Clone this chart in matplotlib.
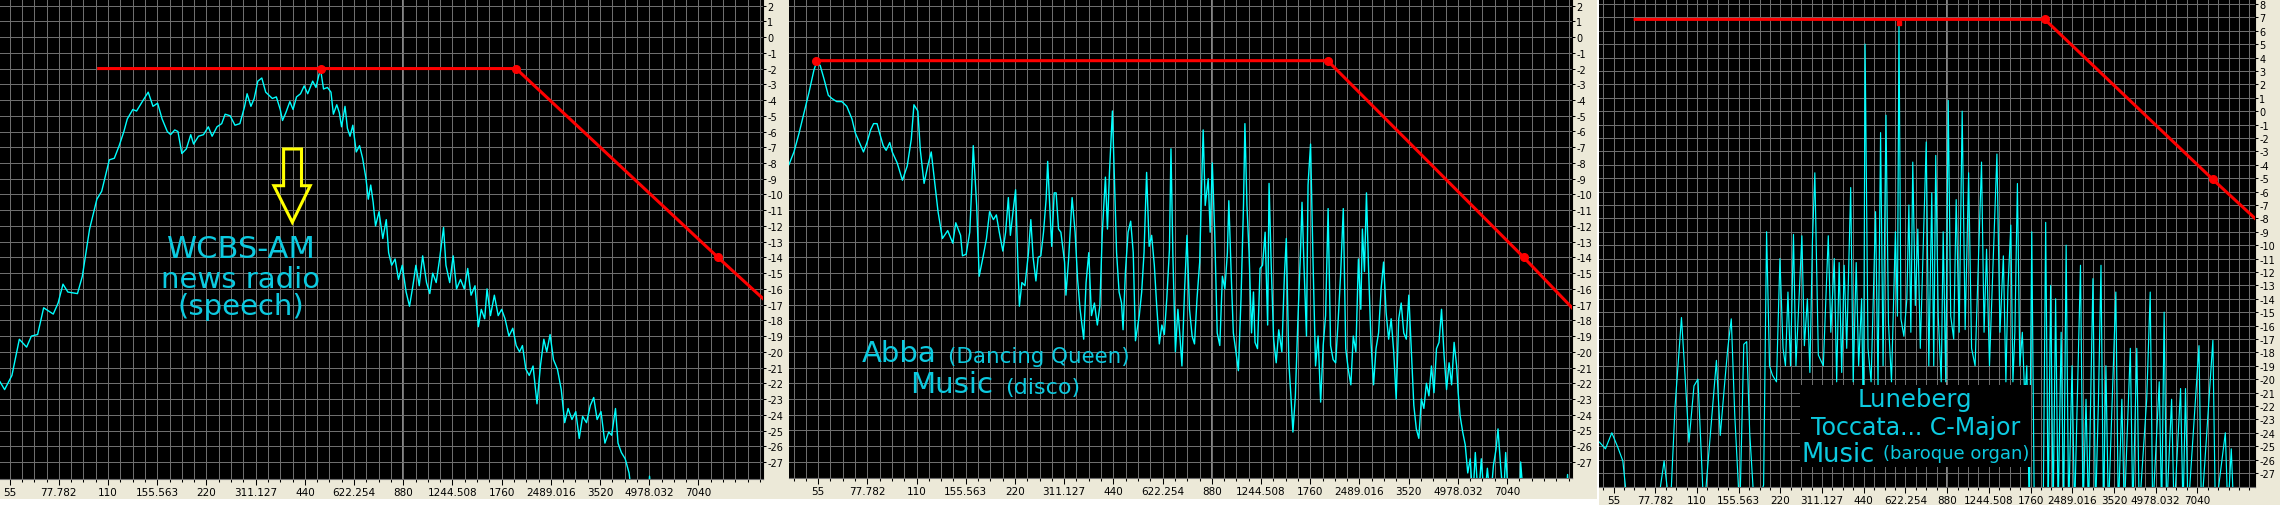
import matplotlib
matplotlib.use('Agg')
import matplotlib.pyplot as plt
from matplotlib.patches import Rectangle, Polygon
from matplotlib.ticker import NullFormatter

plt.rcParams['font.family'] = ['Liberation Sans Narrow', 'DejaVu Sans']
plt.rcParams['axes.unicode_minus'] = False

W, H = 2280, 506

# frequency axis (Hz, half-octave labels)
x_ticks = [55, 77.782, 110, 155.563, 220, 311.127, 440, 622.254, 880,
           1244.508, 1760, 2489.016, 3520, 4978.032, 7040]
x_tick_labels = ['55', '77.782', '110', '155.563', '220', '311.127', '440',
                 '622.254', '880', '1244.508', '1760', '2489.016', '3520',
                 '4978.032', '7040']
levels_ab = list(range(2, -28, -1))
levels_c = list(range(8, -28, -1))

# panel 1 : WCBS-AM news radio (speech)
p1_freq = [51.4, 53.1, 55.9, 58.9, 62.0, 64.1, 67.0, 69.9, 74.8, 77.4,
           80.1, 82.9, 88.7, 91.8, 96.6, 101.7, 105.2, 111, 115, 119,
           123, 126, 131, 134.5, 141, 146, 151, 156, 161, 167,
           171, 176, 180, 185, 191, 197, 201, 208, 215.5, 223,
           229, 237, 245, 251, 260, 269, 278.5, 288, 293, 301,
           308, 316, 325, 334, 342, 350, 360, 370, 376, 385,
           396, 405, 415, 427, 438, 449, 465, 476, 486, 492,
           502, 516, 529, 538, 551, 561, 570, 584, 594, 605,
           617, 632, 647, 661, 677, 688, 700, 712, 724, 742,
           762, 781, 794, 811, 831, 851, 874, 898, 920, 942,
           962, 985, 1009, 1037, 1061, 1083, 1110, 1137, 1169, 1189,
           1221, 1251, 1281, 1317, 1353, 1386, 1419, 1459, 1494, 1525,
           1562, 1588, 1627, 1672, 1718, 1760, 1803, 1853, 1904, 1950,
           1997, 2038, 2087, 2138, 2196, 2258, 2313, 2369, 2418, 2476,
           2536, 2607, 2679, 2744, 2811, 2888, 2967, 3040, 3113, 3200,
           3288, 3367, 3448, 3544, 3643, 3742, 3820, 3925, 3995, 4091,
           4203, 4319, 4425, 4930, 4988, 5073]
p1_level = [-21.9, -22.4, -21.5, -19.2, -19.7, -19.0, -18.9, -17.2, -17.6, -16.9,
            -15.7, -16.2, -16.3, -15.2, -12.2, -10.3, -9.8, -7.8, -7.7, -6.9,
            -6.0, -5.2, -4.6, -4.7, -4.0, -3.5, -4.4, -4.2, -5.2, -6.0,
            -6.2, -5.9, -6.0, -7.4, -7.1, -6.2, -6.8, -6.3, -6.2, -5.7,
            -6.3, -5.7, -5.5, -4.9, -5.0, -5.6, -5.5, -4.4, -3.6, -4.4,
            -3.9, -2.8, -2.6, -3.5, -3.7, -3.9, -3.8, -4.6, -5.3, -4.8,
            -4.1, -4.6, -3.8, -3.6, -3.1, -3.6, -2.8, -3.2, -2.4, -2.1,
            -3.3, -3.2, -3.5, -4.9, -4.3, -4.8, -5.7, -4.4, -5.8, -6.3,
            -5.6, -7.3, -6.9, -7.7, -9.0, -10.3, -9.4, -10.5, -12.0, -11.1,
            -12.8, -11.6, -13.7, -14.5, -14.1, -15.4, -14.5, -16.2, -17.1, -15.8,
            -14.5, -15.8, -13.9, -15.6, -16.3, -15.0, -15.6, -14.1, -12.1, -14.5,
            -15.6, -13.9, -16.0, -15.4, -16.0, -14.7, -16.4, -15.8, -18.4, -17.3,
            -17.9, -16.0, -17.7, -16.4, -17.7, -17.3, -17.9, -19.0, -18.5, -19.6,
            -20.0, -19.6, -21.1, -21.5, -20.9, -23.3, -20.9, -19.2, -20.0, -18.9,
            -20.5, -21.1, -22.4, -24.5, -23.6, -24.3, -23.8, -25.5, -24.1, -24.5,
            -23.4, -22.9, -24.3, -23.8, -25.8, -25.1, -25.3, -23.6, -25.8, -26.4,
            -26.8, -27.7, -29.5, -29.5, -27.9, -29.5]
p1_env_freq = [103, 494, 1948, 8080, 11070]
p1_env_level = [-2, -2, -2, -14, -16.6]
p1_dot_freq = [494, 1948, 8080]
p1_dot_level = [-2, -2, -14]

# panel 2 : Abba, Dancing Queen (disco)
p2_freq = [44.8, 46.4, 48.1, 49.8, 51.6, 53.4, 54.4, 55.8, 57.4, 59.1,
           60.6, 62.7, 65.0, 67.3, 69.8, 71.5, 73.6, 75.7, 77.6, 79.6,
           81.3, 83.3, 84.8, 87.0, 88.8, 91.1, 92.7, 96.0, 99.6, 103,
           106, 108, 111, 113, 116, 119, 122, 124, 128, 132,
           137, 142, 145, 150, 152, 156, 160, 162, 164, 168,
           171, 176, 180, 184, 189, 193, 197, 202, 206, 210,
           213, 217, 221, 225, 227, 231, 236, 242, 246, 250,
           255, 259, 264, 269, 274, 277, 281, 285, 290, 294,
           299, 304, 312, 315, 321, 329, 336, 342, 348, 357,
           363, 370, 377, 385, 393, 400, 407, 416, 422, 428,
           437, 443, 450, 458, 466, 471, 479, 488, 497, 506,
           514, 528, 537, 546, 556, 566, 576, 587, 597, 608,
           619, 630, 641, 653, 660, 669, 681, 693, 703, 713,
           726, 739, 752, 766, 779, 793, 808, 817, 828, 840,
           858, 870, 883, 898, 914, 931, 948, 965, 982, 992,
           1010, 1024, 1043, 1061, 1081, 1100, 1111, 1127, 1144, 1164,
           1180, 1193, 1214, 1236, 1258, 1281, 1304, 1317, 1337, 1360,
           1385, 1410, 1441, 1467, 1487, 1514, 1536, 1558, 1585, 1614,
           1643, 1661, 1684, 1714, 1733, 1764, 1795, 1827, 1860, 1894,
           1928, 1961, 1996, 2031, 2068, 2105, 2144, 2182, 2221, 2260,
           2300, 2343, 2383, 2427, 2471, 2513, 2541, 2578, 2615, 2652,
           2700, 2749, 2797, 2848, 2899, 2950, 3003, 3057, 3112, 3168,
           3224, 3282, 3340, 3400, 3462, 3524, 3587, 3650, 3715, 3781,
           3849, 3918, 3989, 4060, 4133, 4207, 4282, 4359, 4437, 4516,
           4597, 4679, 4763, 4848, 4935, 4988, 5059, 5150, 5242, 5336,
           5431, 5529, 5628, 5749, 5872, 5998, 6128, 6262, 6396, 6512,
           6604, 6723, 6867, 6970, 7111, 7700, 7744, 7913, 8406, 10700,
           10778, 10850]
p2_level = [-8.1, -7.3, -6.1, -4.8, -3.5, -2.1, -1.6, -1.8, -2.7, -3.7,
            -3.9, -4.1, -4.1, -4.4, -5.2, -6.1, -6.7, -7.3, -6.7, -5.9,
            -5.5, -5.5, -6.1, -6.9, -7.2, -6.7, -7.3, -8.0, -9.1, -8.2,
            -6.5, -4.3, -4.7, -7.2, -9.3, -8.2, -7.3, -8.6, -11.1, -12.8,
            -12.3, -13.1, -11.8, -12.6, -13.9, -13.8, -12.4, -9.9, -6.9, -10.7,
            -15.2, -13.9, -12.8, -11.1, -11.6, -11.3, -12.4, -13.6, -12.4, -10.2,
            -12.6, -11.1, -9.7, -15.0, -17.1, -15.6, -15.8, -13.7, -11.6, -14.0,
            -15.5, -14.0, -13.9, -12.4, -10.3, -7.9, -10.7, -13.3, -9.9, -9.9,
            -12.2, -12.4, -14.3, -16.4, -14.1, -10.2, -12.4, -15.4, -17.3, -19.2,
            -15.6, -13.7, -17.7, -16.9, -18.3, -17.1, -12.4, -8.9, -12.2, -8.6,
            -4.7, -9.0, -13.7, -16.2, -16.9, -18.6, -14.9, -12.4, -11.7, -13.7,
            -19.3, -17.7, -16.2, -13.7, -8.6, -13.3, -12.6, -14.5, -17.1, -19.5,
            -18.3, -18.9, -16.6, -13.5, -7.1, -13.9, -20.0, -17.3, -19.0, -20.9,
            -16.2, -12.6, -17.3, -19.0, -19.5, -16.6, -14.3, -10.3, -5.9, -10.7,
            -9.0, -12.4, -8.0, -12.4, -18.8, -19.6, -15.2, -16.0, -13.7, -10.4,
            -15.4, -18.8, -20.0, -21.2, -16.6, -10.7, -5.5, -10.7, -13.7, -18.8,
            -16.2, -19.4, -19.8, -14.7, -14.5, -12.4, -18.3, -9.3, -14.5, -19.2,
            -20.7, -18.6, -20.0, -15.2, -12.8, -20.7, -22.8, -25.1, -22.8, -17.9,
            -13.7, -10.5, -14.5, -19.0, -9.4, -6.8, -14.3, -20.9, -19.0, -23.2,
            -19.6, -17.7, -10.9, -19.6, -20.5, -20.7, -17.9, -14.9, -10.9, -19.8,
            -21.1, -22.1, -19.0, -20.0, -14.1, -17.3, -12.2, -14.9, -9.9, -14.5,
            -19.4, -22.1, -19.8, -18.8, -16.0, -14.3, -17.5, -19.2, -17.9, -20.0,
            -23.0, -17.9, -16.9, -18.8, -19.2, -16.4, -20.0, -23.4, -24.9, -25.5,
            -23.0, -23.6, -22.0, -22.8, -20.9, -22.6, -19.8, -19.4, -17.3, -20.2,
            -22.4, -20.7, -22.1, -19.4, -20.9, -22.6, -24.1, -25.1, -25.9, -27.7,
            -26.8, -29.5, -26.4, -29.5, -26.8, -29.5, -27.4, -29.5, -27.2, -26.2,
            -24.9, -27.2, -29.5, -26.4, -29.5, -29.5, -27.0, -29.5, -29.5, -29.5,
            -27.8, -29.5]
p2_env_freq = [54.2, 1989, 7913, 11120]
p2_env_level = [-1.5, -1.5, -14, -17.2]
p2_dot_freq = [54.2, 1989, 7913]
p2_dot_level = [-1.5, -1.5, -14]

# panel 3 : Luneberg Toccata C-Major (baroque organ)
p3_freq = [48.9, 51.4, 54.2, 57.0, 59.4, 62.1, 78.7, 83.7, 88.0, 91.7,
           96.7, 99.6, 102.9, 107.3, 110.9, 116.5, 129.3, 133.5, 138.6, 142.1,
           146.3, 150.6, 157, 162.3, 166.3, 170.5, 177.6, 191.4, 196.2, 201,
           206, 213, 219.2, 224.9, 229.5, 234.3, 239.3, 245.3, 250.4, 263.1,
           268.6, 275.4, 281.2, 287.1, 293.0, 301.6, 314.4, 327.6, 334.6, 344.3,
           351.3, 358.6, 366.3, 373.8, 381.9, 394.7, 403, 413.2, 421.7, 432.3,
           439, 444.9, 455.8, 467.7, 485.3, 495.4, 506.0, 516.6, 529.3, 540.3,
           554, 572.4, 582.1, 589.6, 599.3, 614.2, 629.6, 640.2, 650.8, 661.3,
           675.4, 689.5, 704, 739.6, 755.5, 774.4, 787.2, 800.4, 817.1, 837.8,
           851.4, 869.9, 887.9, 906.4, 929.3, 948.6, 972.4, 997, 1022, 1052,
           1078, 1110, 1171, 1196, 1221, 1251, 1331, 1365, 1404, 1434,
           1458, 1494, 1520, 1545, 1578, 1610, 1644, 1678, 1706, 1742,
           1778, 1816, 1955, 1996, 2038, 2080, 2124, 2168, 2214, 2270,
           2318, 2366, 2415, 2485, 2538, 2666, 2723, 2791, 2849, 2957,
           3020, 3096, 3161, 3226, 3293, 3362, 3576, 3650, 3760, 3837,
           4034, 4118, 4256, 4344, 4622, 4759, 4858, 5129, 5234, 5343,
           5452, 5685, 5804, 6125, 6252, 6382, 6516, 7138, 7286, 8012,
           8180, 8885, 9075, 9335, 9532]
p3_level = [-24.7, -25.2, -24.0, -25.1, -26.1, -30, -30, -26.1, -30, -22.0,
            -15.4, -19.7, -24.7, -20.5, -20.0, -30, -18.6, -24.2, -20.2, -17.7,
            -15.5, -22.7, -30, -17.4, -17.2, -24.0, -30, -27.9, -9.0, -19.0,
            -19.7, -20.2, -11.0, -17.7, -19.0, -13.5, -19.0, -9.2, -19.0, -9.3,
            -17.5, -14.0, -19.5, -9.8, -4.6, -18.2, -19.0, -9.3, -16.5, -11.0,
            -20.2, -11.3, -19.5, -11.5, -17.7, -5.7, -20.2, -11.3, -19.0, -14.0,
            -24.0, 5.0, -17.7, -20.2, -7.5, -20.5, -1.6, -19.0, -0.3, -15.8,
            -20.2, -9.0, -15.3, 6.6, -15.5, -16.8, -14.0, -7.0, -16.5, -3.8,
            -14.5, -8.8, -17.7, -2.3, -19.0, -6.1, -19.0, -3.3, -15.3, -20.2,
            -9.0, -20.2, 0.8, -15.3, -17.0, -6.6, -16.5, 0.0, -16.3, -4.6,
            -17.7, -19.0, -3.8, -16.5, -10.3, -19.0, -3.2, -16.5, -10.8, -20.2,
            -13.3, -8.5, -20.2, -16.5, -5.4, -19.0, -16.5, -21.5, -19.0, -30,
            -9.0, -30, -30, -8.3, -30, -13.0, -30, -14.0, -30, -16.5,
            -30, -10.0, -30, -19.0, -30, -11.5, -30, -21.5, -30, -12.5,
            -30, -21.5, -11.5, -30, -19.0, -30, -13.5, -30, -21.5, -30,
            -17.7, -30, -17.7, -30, -21.5, -13.5, -30, -20.2, -30, -15.0,
            -30, -21.5, -30, -20.7, -30, -20.7, -30, -17.5, -30, -17.1,
            -30, -24.0, -30, -25.2, -30]
p3_env_freq = [65.8, 1980, 8012, 11370]
p3_env_level = [6.85, 6.85, -5.1, -8.0]
p3_dot_freq = [1980, 8012]
p3_dot_level = [6.85, -5.1]
p3_mark_freq = [589.6]
p3_mark_level = [6.6]

BEIGE = '#ECE9D8'
GRID = '#6E6E6E'
CYAN = '#00FFFF'
TEXT_CYAN = '#0CCAE0'
RED = '#FF0000'

fig = plt.figure(figsize=(W / 100, H / 100), dpi=100)
fig.patch.set_facecolor('white')


def frac(x0, y0, x1, y1):
    return [x0 / W, 1 - y1 / H, (x1 - x0) / W, (y1 - y0) / H]


def pt(x, y):
    return (x / W, 1 - y / H)


for r in [(0, 0, 1597, 500), (1598.7, 0, W, H)]:
    b = frac(*r)
    fig.add_artist(Rectangle((b[0], b[1]), b[2], b[3], transform=fig.transFigure,
                             facecolor=BEIGE, edgecolor='none', zorder=-5))


def panel(rect, xlim, ylim, ylevels):
    ax = fig.add_axes(frac(*rect))
    ax.set_facecolor('black')
    ax.set_xscale('log', base=2)
    ax.set_xlim(xlim)
    ax.set_ylim(ylim)
    ax.set_xticks(x_ticks, x_tick_labels)
    eighths = [55 * 2 ** (k / 8) for k in range(-8, 72)]
    ax.set_xticks([f for f in eighths if xlim[0] < f < xlim[1]], minor=True)
    ax.xaxis.set_minor_formatter(NullFormatter())
    ax.set_yticks(ylevels, [str(v) for v in ylevels])
    ax.yaxis.tick_right()
    ax.set_axisbelow(True)
    ax.grid(which='both', color=GRID, lw=0.72)
    ax.axvline(880, color='#8A8A8A', lw=1.4, zorder=0.5)
    ax.tick_params(axis='x', which='major', length=4, width=0.75, color='black',
                   labelcolor='black', labelsize=7.5, pad=1.5)
    ax.tick_params(axis='x', which='minor', length=2.2, width=0.75, color='black')
    ax.tick_params(axis='y', which='major', length=2.2, width=0.75, color='black',
                   labelcolor='black', labelsize=7, pad=1)
    for s in ['top', 'left']:
        ax.spines[s].set_visible(False)
    ax.spines['bottom'].set_color(GRID)
    ax.spines['right'].set_color('black')
    ax.spines['right'].set_linestyle((0, (1, 1)))
    ax.spines['right'].set_linewidth(0.8)
    return ax


ax1 = panel((0, 0, 762.7, 480), (51.4, 11070), (-28.08, 2.42), levels_ab)
ax1.plot(p1_freq, p1_level, color=CYAN, lw=1.0, zorder=3)
ax1.plot(p1_env_freq, p1_env_level, color=RED, lw=2.2, zorder=4)
ax1.plot(p1_dot_freq, p1_dot_level, 'o', color=RED, ms=5.5, zorder=5)

ax2 = panel((789.3, 0, 1572, 479.3), (44.9, 11120), (-28.04, 2.42), levels_ab)
ax2.plot(p2_freq, p2_level, color=CYAN, lw=1.0, zorder=3)
ax2.plot(p2_env_freq, p2_env_level, color=RED, lw=2.2, zorder=4)
ax2.plot(p2_dot_freq, p2_dot_level, 'o', color=RED, ms=5.5, zorder=5)

ax3 = panel((1598.7, 0, 2255, 488.3), (48.6, 11370), (-28.07, 8.37), levels_c)
ax3.plot(p3_freq, p3_level, color=CYAN, lw=0.85, zorder=3)
ax3.plot(p3_env_freq, p3_env_level, color=RED, lw=2.2, zorder=4)
ax3.plot(p3_dot_freq, p3_dot_level, 'o', color=RED, ms=5.5, zorder=5)
ax3.plot(p3_mark_freq, p3_mark_level, 's', color=RED, ms=3.5, zorder=5)

# annotations
txt = dict(color=TEXT_CYAN, family='DejaVu Sans', va='baseline')
fig.text(*pt(241, 258), 'WCBS-AM', ha='center', fontsize=22, **txt)
fig.text(*pt(241, 288), 'news radio', ha='center', fontsize=21, **txt)
fig.text(*pt(241, 315), '(speech)', ha='center', fontsize=21, **txt)
arrow = [pt(283.6, 150), pt(301.5, 150), pt(301.5, 186.7), pt(310.2, 186.7),
         pt(292.3, 223.3), pt(273.9, 186.7), pt(283.6, 186.7)]
fig.add_artist(Polygon(arrow, closed=True, fill=False, edgecolor='#FFFF00', lw=2.2,
                       transform=fig.transFigure, zorder=6))

fig.text(*pt(862, 361.7), 'Abba', ha='left', fontsize=21, **txt)
fig.text(*pt(947.7, 363), '(Dancing Queen)', ha='left', fontsize=15.4, **txt)
fig.text(*pt(910, 393), 'Music', ha='left', fontsize=21, **txt)
fig.text(*pt(1005.6, 394), '(disco)', ha='left', fontsize=16, **txt)

b = frac(1800, 386, 2031, 468)
fig.add_artist(Rectangle((b[0], b[1]), b[2], b[3], transform=fig.transFigure,
                         facecolor='black', edgecolor='none', zorder=5))
fig.text(*pt(1915, 407), 'Luneberg', ha='center', fontsize=17.5, zorder=6, **txt)
fig.text(*pt(1916, 435), 'Toccata... C-Major', ha='center', fontsize=17, zorder=6, **txt)
fig.text(*pt(1801, 461.7), 'Music', ha='left', fontsize=18.5, zorder=6, **txt)
fig.text(*pt(1883, 459), '(baroque organ)', ha='left', fontsize=13, zorder=6, **txt)

fig.savefig('out.png', dpi=100, facecolor='white')
